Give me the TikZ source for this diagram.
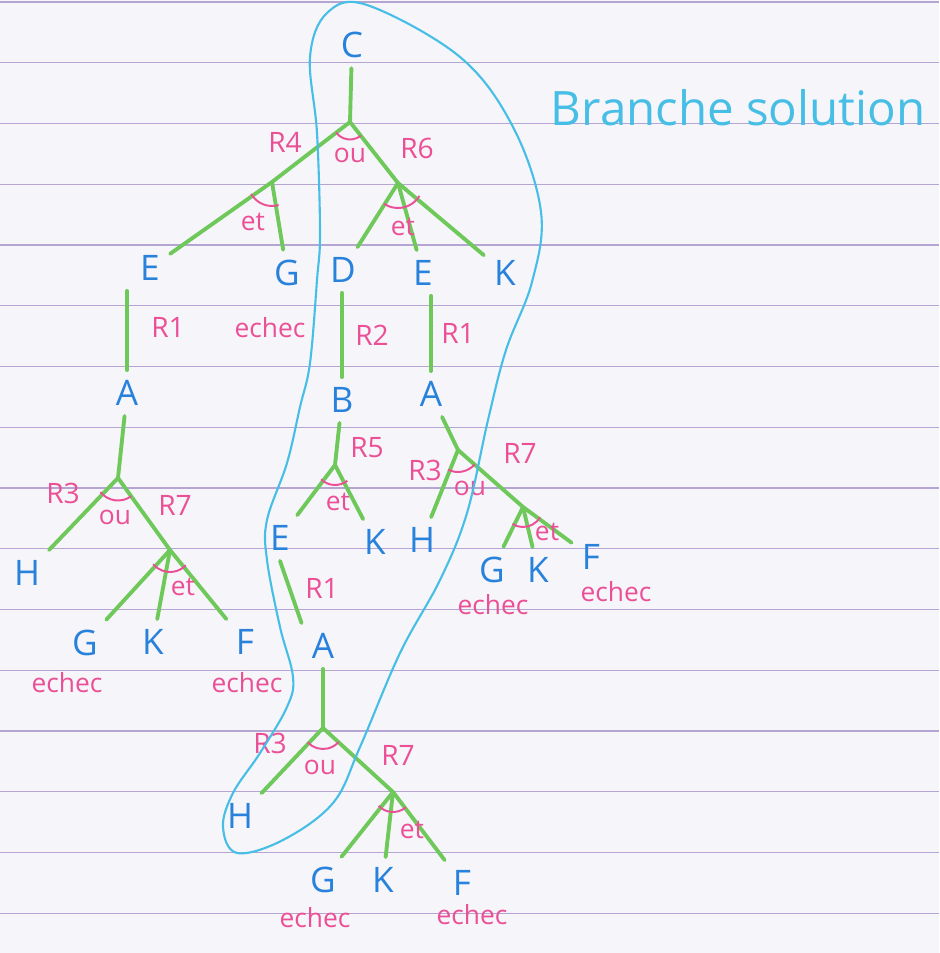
\documentclass[tikz,border=0pt]{standalone}
\usepackage{fontspec}
\setmainfont{Open Sans}
\definecolor{encrebleu}{RGB}{40,130,220}
\definecolor{encrevert}{RGB}{110,200,90}
\definecolor{encrerose}{RGB}{235,80,150}
\definecolor{encrecyan}{RGB}{70,190,230}
\definecolor{papier}{RGB}{246,245,250}
\definecolor{reglure}{RGB}{180,165,210}
\begin{document}
\begin{tikzpicture}[x=0.2mm,y=-0.2mm,
  lettre/.style={text=encrebleu, font=\fontsize{20}{20}\selectfont, inner sep=2mm},
  regle/.style={text=encrerose, font=\fontsize{16}{16}\selectfont, inner sep=0pt},
  mot/.style={text=encrerose, font=\fontsize{15}{15}\selectfont, inner sep=0pt},
  lien/.style={draw=encrevert, line width=2.2pt, line cap=round},
  arcrose/.style={draw=encrerose, line width=1.1pt},
  reglage/.style={draw=reglure, line width=0.6pt}]
\fill [papier] (0,0) rectangle (939,953);
\useasboundingbox (0,0) rectangle (939,953);
\foreach \k in {0,...,15}
  \draw [reglage] (0,{2+60.75*\k}) -- (939,{2+60.75*\k});

% lettres
\node [lettre] (C) at (352,45) {C};
\node [lettre] (E1) at (150,268) {E};
\node [lettre] (G1) at (287,273) {G};
\node [lettre] (D) at (343,270) {D};
\node [lettre] (E2) at (423,273) {E};
\node [lettre] (K1) at (505,273) {K};
\node [lettre] (A1) at (127,393) {A};
\node [lettre] (B) at (342,400) {B};
\node [lettre] (A2) at (431,394) {A};
\node [lettre] (H1) at (27,573) {H};
\node [lettre] (G2) at (85,643) {G};
\node [lettre] (K2) at (153,642) {K};
\node [lettre] (F1) at (245,642) {F};
\node [lettre] (E3) at (280,538) {E};
\node [lettre] (K3) at (375,542) {K};
\node [lettre] (H2) at (422,540) {H};
\node [lettre] (G3) at (492,570) {G};
\node [lettre] (K4) at (538,570) {K};
\node [lettre] (F2) at (591,557) {F};
\node [lettre] (A3) at (323,646) {A};
\node [lettre] (H3) at (240,816) {H};
\node [lettre] (G4) at (323,880) {G};
\node [lettre] (K5) at (383,880) {K};
\node [lettre] (F3) at (462,883) {F};

% jonctions
\coordinate (o1) at (350,122);
\coordinate (a1) at (272,182);
\coordinate (a2) at (398,183);
\coordinate (o2) at (118,478);
\coordinate (a3) at (170,550);
\coordinate (a4) at (335,465);
\coordinate (o3) at (458,450);
\coordinate (a5) at (523,507);
\coordinate (o4) at (323,728);
\coordinate (a6) at (393,792);

% branches
\draw [lien] (C) -- (o1);
\draw [lien] (o1) -- (a1) -- (E1);
\draw [lien] (a1) -- (G1);
\draw [lien] (o1) -- (a2);
\draw [lien] (a2) -- (D);
\draw [lien] (a2) -- (E2);
\draw [lien] (a2) -- (K1);
\draw [lien] (A1.north) -- (A1.north |- E1.south);
\draw [lien] (B.north) -- (B.north |- D.south);
\draw [lien] (A2.north) -- (A2.north |- E2.south);
\draw [lien] (A1) -- (o2);
\draw [lien] (o2) -- (H1);
\draw [lien] (o2) -- (a3);
\draw [lien] (a3) -- (G2);
\draw [lien] (a3) -- (K2);
\draw [lien] (a3) -- (F1);
\draw [lien] (B) -- (a4);
\draw [lien] (a4) -- (E3);
\draw [lien] (a4) -- (K3);
\draw [lien] (A2) -- (o3);
\draw [lien] (o3) -- (H2);
\draw [lien] (o3) -- (a5);
\draw [lien] (a5) -- (G3);
\draw [lien] (a5) -- (K4);
\draw [lien] (a5) -- (F2);
\draw [lien] (E3.south) -- (A3.north west);
\draw [lien] (A3) -- (o4);
\draw [lien] (o4) -- (H3);
\draw [lien] (o4) -- (a6);
\draw [lien] (a6) -- (G4);
\draw [lien] (a6) -- (K5);
\draw [lien] (a6) -- (F3);

% arcs ou / et
\draw [arcrose] (o1) ++(217:3.5mm) arc [start angle=217, end angle=308, radius=3.5mm];
\draw [arcrose] (a1) ++(210:4.8mm) arc [start angle=210, end angle=286, radius=4.8mm];
\draw [arcrose] (a2) ++(236:5mm) arc [start angle=236, end angle=329, radius=5mm];
\draw [arcrose] (o2) ++(219:4.5mm) arc [start angle=219, end angle=306, radius=4.5mm];
\draw [arcrose] (a3) ++(220:4.4mm) arc [start angle=220, end angle=316, radius=4.4mm];
\draw [arcrose] (a4) ++(226:4mm) arc [start angle=226, end angle=308, radius=4mm];
\draw [arcrose] (o3) ++(243:4.4mm) arc [start angle=243, end angle=319, radius=4.4mm];
\draw [arcrose] (a5) ++(238:4mm) arc [start angle=238, end angle=329, radius=4mm];
\draw [arcrose] (o4) ++(223:4.2mm) arc [start angle=223, end angle=318, radius=4.2mm];
\draw [arcrose] (a6) ++(224:4mm) arc [start angle=224, end angle=310, radius=4mm];

% regles
\node [regle] (r4) at (285,142) {R4};
\node [regle] (r6) at (417,148) {R6};
\node [mot] (ou1) at (350,155) {ou};
\node [mot] (et1) at (253,222) {et};
\node [mot] (et2) at (403,227) {et};
\node [mot] (ech1) at (270,328) {echec};
\node [regle] (r1a) at (168,327) {R1};
\node [regle] (r2) at (372,335) {R2};
\node [regle] (r1b) at (458,333) {R1};
\node [regle] (r3a) at (63,493) {R3};
\node [mot] (ou2) at (115,517) {ou};
\node [regle] (r7a) at (175,505) {R7};
\node [mot] (et3) at (183,587) {et};
\node [mot] (ech2) at (67,683) {echec};
\node [mot] (ech3) at (247,683) {echec};
\node [regle] (r5) at (367,448) {R5};
\node [mot] (et4) at (338,502) {et};
\node [regle] (r3b) at (425,470) {R3};
\node [mot] (ou3) at (470,488) {ou};
\node [regle] (r7b) at (520,453) {R7};
\node [mot] (et5) at (547,532) {et};
\node [mot] (ech4) at (493,605) {echec};
\node [mot] (ech5) at (616,592) {echec};
\node [regle] (r1c) at (322,588) {R1};
\node [regle] (r3c) at (270,743) {R3};
\node [mot] (ou4) at (320,767) {ou};
\node [regle] (r7c) at (398,755) {R7};
\node [mot] (et6) at (412,830) {et};
\node [mot] (ech6) at (315,918) {echec};
\node [mot] (ech7) at (472,915) {echec};

% branche solution
\draw [encrecyan, line width=1.2pt] plot [smooth cycle, tension=0.6] coordinates {
  (327,13) (367,5) (460,57) (513,127) (541,212) (532,282) (506,350)
  (488,420) (467,513) (440,580) (400,653) (360,747) (333,803)
  (283,840) (237,853) (223,827) (233,793) (260,753) (287,707) (293,677)
  (280,627) (267,560) (267,520) (287,463) (300,407) (310,363) (317,280)
  (320,233) (317,133) (310,57)};
\node [text=encrecyan, font=\fontsize{27}{27}\selectfont, inner sep=0pt] (titre) at (738,108) {Branche solution};
\end{tikzpicture}
\end{document}
